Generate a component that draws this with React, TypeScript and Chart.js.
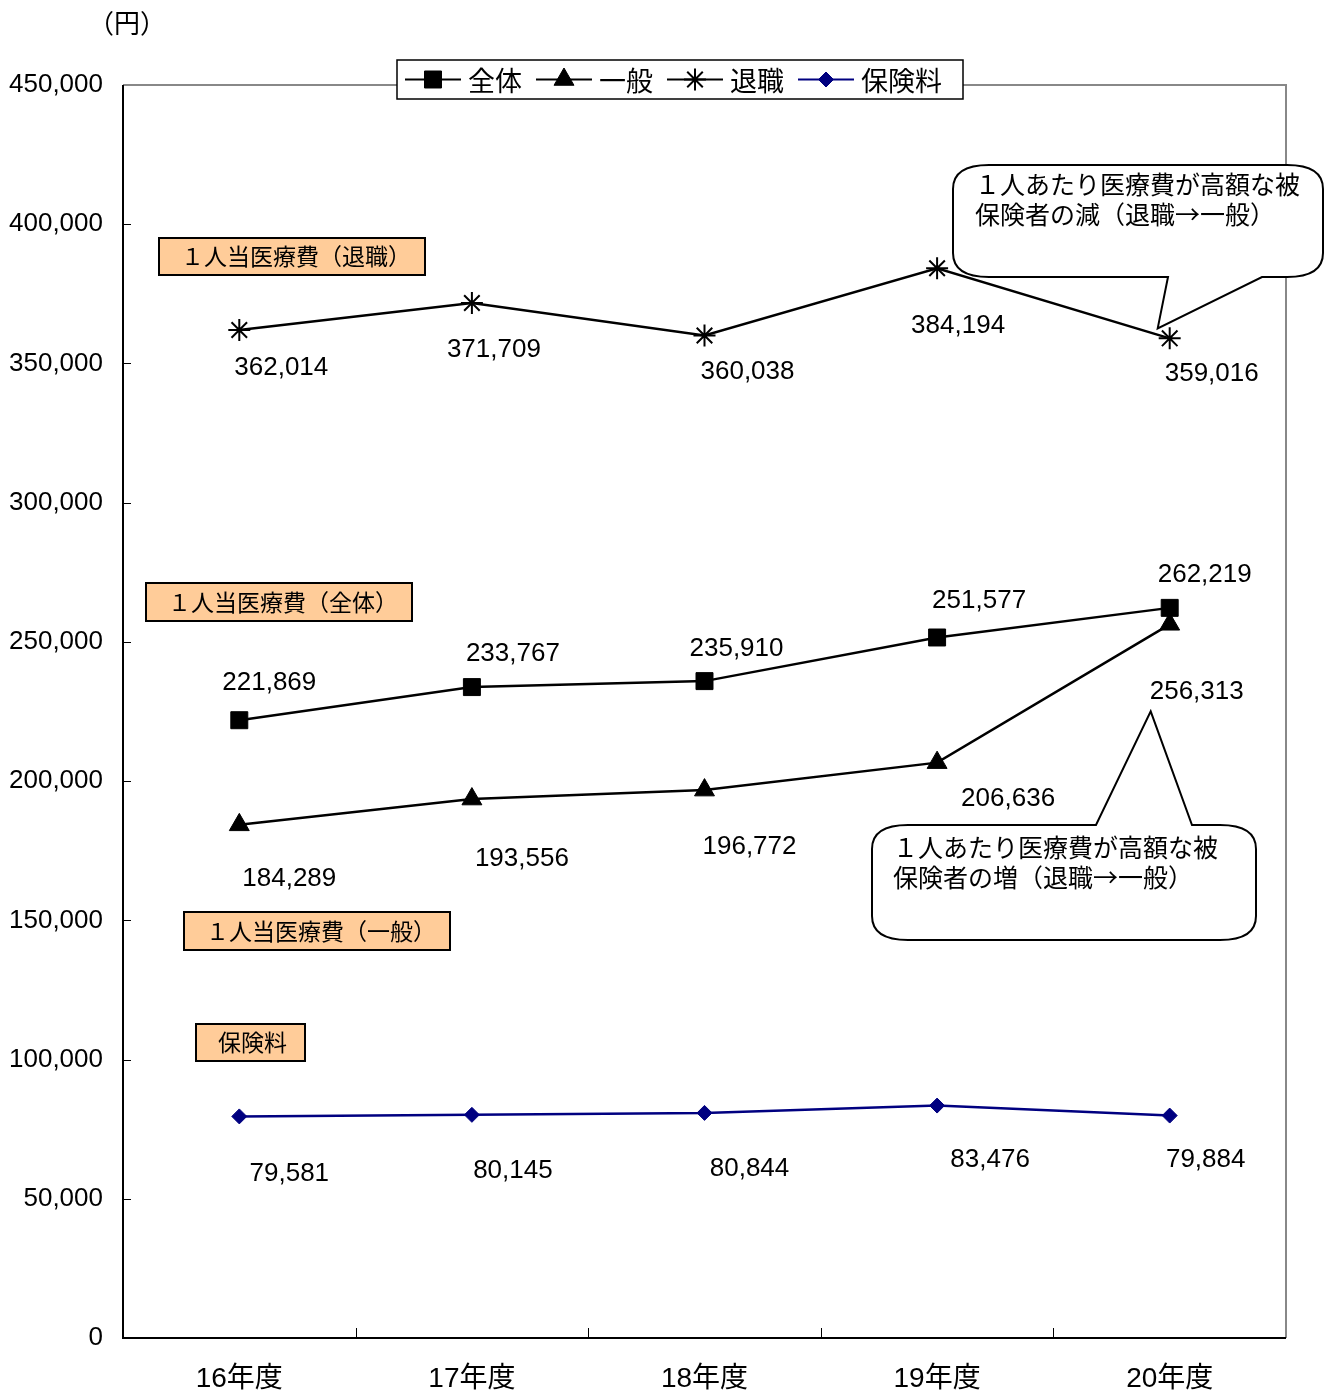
import React, { useEffect, useRef } from "react";
import { Chart, registerables } from "chart.js";
import { drawPoint } from "chart.js/helpers";

Chart.register(...registerables);

const categories = ["16年度", "17年度", "18年度", "19年度", "20年度"];
const zentai = [221869, 233767, 235910, 251577, 262219];
const ippan = [184289, 193556, 196772, 206636, 256313];
const taishoku = [362014, 371709, 360038, 384194, 359016];
const hokenryo = [79581, 80145, 80844, 83476, 79884];
const seriesNames = ["全体", "一般", "退職", "保険料"];
const yMax = 450000;
const yStep = 50000;
const unitLabel = "（円）";
const boxLabels = ["１人当医療費（退職）", "１人当医療費（全体）", "１人当医療費（一般）", "保険料"];
const callout1 = ["１人あたり医療費が高額な被", "保険者の減（退職→一般）"];
const callout2 = ["１人あたり医療費が高額な被", "保険者の増（退職→一般）"];

const NUM_FAMILY = '"Liberation Sans Narrow", "Liberation Sans", "Noto Sans CJK JP", sans-serif';
const JP_FAMILY = '"Noto Sans CJK JP", "Liberation Sans", sans-serif';

// label offsets (pixels) relative to each point, per dataset
const labelOffsets = [
  [[30, -37], [41, -33], [32, -32], [42, -37], [35, -33]],
  [[50, 54], [50, 60], [45, 57], [71, 36], [27, 68]],
  [[42, 38], [22, 47], [43, 36], [21, 58], [42, 35]],
  [[50, 57], [41, 56], [45, 56], [53, 54], [36, 44]],
];

function fmt(v: number) {
  return v.toLocaleString("en-US");
}

function calloutPath(
  ctx: CanvasRenderingContext2D,
  x0: number, y0: number, x1: number, y1: number,
  rx: number, ry: number,
  side: "top" | "bottom", ta: number, tb: number, tip: [number, number]
) {
  ctx.beginPath();
  ctx.moveTo(x0 + rx, y0);
  if (side === "top") {
    ctx.lineTo(ta, y0);
    ctx.lineTo(tip[0], tip[1]);
    ctx.lineTo(tb, y0);
  }
  ctx.lineTo(x1 - rx, y0);
  ctx.quadraticCurveTo(x1, y0, x1, y0 + ry);
  ctx.lineTo(x1, y1 - ry);
  ctx.quadraticCurveTo(x1, y1, x1 - rx, y1);
  if (side === "bottom") {
    ctx.lineTo(tb, y1);
    ctx.lineTo(tip[0], tip[1]);
    ctx.lineTo(ta, y1);
  }
  ctx.lineTo(x0 + rx, y1);
  ctx.quadraticCurveTo(x0, y1, x0, y1 - ry);
  ctx.lineTo(x0, y0 + ry);
  ctx.quadraticCurveTo(x0, y0, x0 + rx, y0);
  ctx.closePath();
}

const overlayPlugin = {
  id: "overlay",
  afterDatasetsDraw(chart: any) {
    const ctx: CanvasRenderingContext2D = chart.ctx;
    ctx.save();
    ctx.fillStyle = "#000";
    ctx.font = `26px ${NUM_FAMILY}`;
    ctx.textAlign = "center";
    ctx.textBaseline = "middle";
    chart.data.datasets.forEach((ds: any, di: number) => {
      const meta = chart.getDatasetMeta(di);
      meta.data.forEach((el: any, i: number) => {
        const [dx, dy] = labelOffsets[di][i];
        ctx.fillText(fmt(ds.data[i]), el.x + dx, el.y + dy);
      });
    });
    ctx.restore();
  },
  afterDraw(chart: any) {
    const ctx: CanvasRenderingContext2D = chart.ctx;
    const { left, right, top, bottom } = chart.chartArea;
    const xs = chart.scales.x;
    const ys = chart.scales.y;
    ctx.save();
    // frame
    ctx.lineWidth = 2;
    ctx.strokeStyle = "#888";
    ctx.beginPath();
    ctx.moveTo(left, top);
    ctx.lineTo(right, top);
    ctx.lineTo(right, bottom);
    ctx.stroke();
    ctx.strokeStyle = "#000";
    ctx.beginPath();
    ctx.moveTo(left, top);
    ctx.lineTo(left, bottom);
    ctx.lineTo(right, bottom);
    ctx.stroke();
    ctx.lineWidth = 1;
    ctx.beginPath();
    for (let v = yStep; v < yMax; v += yStep) {
      const y = Math.round(ys.getPixelForValue(v)) + 0.5;
      ctx.moveTo(left, y);
      ctx.lineTo(left + 8, y);
    }
    for (let i = 0; i < categories.length - 1; i++) {
      const x = Math.round((xs.getPixelForValue(i) + xs.getPixelForValue(i + 1)) / 2) + 0.5;
      ctx.moveTo(x, bottom);
      ctx.lineTo(x, bottom - 10);
    }
    ctx.stroke();

    // unit label
    ctx.fillStyle = "#000";
    ctx.font = `26px ${JP_FAMILY}`;
    ctx.textAlign = "left";
    ctx.textBaseline = "middle";
    ctx.fillText(unitLabel, 88, 23);

    // orange label boxes
    const boxes: [number, number, number, number][] = [
      [159, 238, 425, 275],
      [146, 583, 412, 621],
      [184, 912, 450, 950],
      [196, 1024, 305, 1061],
    ];
    ctx.font = `23px ${JP_FAMILY}`;
    boxes.forEach((b, i) => {
      ctx.fillStyle = "#FFCC99";
      ctx.fillRect(b[0], b[1], b[2] - b[0], b[3] - b[1]);
      ctx.lineWidth = 2;
      ctx.strokeStyle = "#000";
      ctx.strokeRect(b[0], b[1], b[2] - b[0], b[3] - b[1]);
      ctx.fillStyle = "#000";
      ctx.textAlign = "left";
      ctx.fillText(boxLabels[i], b[0] + 22, (b[1] + b[3]) / 2);
    });

    // callouts
    const m2 = chart.getDatasetMeta(2).data[4];
    const m1 = chart.getDatasetMeta(1).data[4];
    ctx.lineWidth = 2;
    ctx.strokeStyle = "#000";
    ctx.fillStyle = "#fff";
    calloutPath(ctx, 953, 165, 1323, 277, 36, 24, "bottom", 1168, 1262, [m2.x - 12, m2.y - 10]);
    ctx.fill();
    ctx.stroke();
    calloutPath(ctx, 872, 825, 1256, 940, 36, 24, "top", 1096, 1192, [m1.x - 19, m1.y + 87]);
    ctx.fill();
    ctx.stroke();
    ctx.fillStyle = "#000";
    ctx.font = `25px ${JP_FAMILY}`;
    ctx.textAlign = "left";
    ctx.fillText(callout1[0], 975, 184);
    ctx.fillText(callout1[1], 975, 214);
    ctx.fillText(callout2[0], 893, 847);
    ctx.fillText(callout2[1], 893, 877);

    // legend
    const lx0 = 397, ly0 = 60, lx1 = 963, ly1 = 99;
    ctx.fillStyle = "#fff";
    ctx.fillRect(lx0, ly0, lx1 - lx0, ly1 - ly0);
    ctx.lineWidth = 1.5;
    ctx.strokeStyle = "#000";
    ctx.strokeRect(lx0, ly0, lx1 - lx0, ly1 - ly0);
    ctx.font = `27px ${JP_FAMILY}`;
    let cx = 405;
    const cy = (ly0 + ly1) / 2;
    chart.data.datasets.forEach((ds: any) => {
      ctx.strokeStyle = ds.borderColor;
      ctx.lineWidth = 2;
      ctx.beginPath();
      ctx.moveTo(cx, cy);
      ctx.lineTo(cx + 56, cy);
      ctx.stroke();
      ctx.fillStyle = ds.pointBackgroundColor;
      ctx.strokeStyle = ds.borderColor;
      ctx.lineWidth = ds.pointBorderWidth;
      drawPoint(ctx, { pointStyle: ds.pointStyle, radius: ds.pointRadius, rotation: 0, borderWidth: ds.pointBorderWidth }, cx + 28, cy);
      ctx.fillStyle = "#000";
      ctx.textAlign = "left";
      ctx.fillText(ds.label, cx + 63, cy + 1);
      cx += 63 + ctx.measureText(ds.label).width + 14;
    });
    ctx.restore();
  },
};

export default function App() {
  const ref = useRef<HTMLCanvasElement>(null);
  useEffect(() => {
    if (!ref.current) return;
    const mk = (label: string, data: number[], color: string, style: string, radius: number, bw: number) => ({
      label,
      data,
      borderColor: color,
      backgroundColor: color,
      pointBackgroundColor: color,
      pointBorderColor: color,
      pointStyle: style,
      pointRadius: radius,
      pointBorderWidth: bw,
      borderWidth: 2.5,
      tension: 0,
      fill: false,
    });
    const chart = new Chart(ref.current, {
      type: "line",
      data: {
        labels: categories,
        datasets: [
          mk(seriesNames[0], zentai, "#000", "rect", 12, 1),
          mk(seriesNames[1], ippan, "#000", "triangle", 11.5, 1),
          mk(seriesNames[2], taishoku, "#000", "star", 11, 2),
          mk(seriesNames[3], hokenryo, "#000080", "rectRot", 7.5, 1),
        ] as any,
      },
      options: {
        responsive: false,
        animation: false,
        devicePixelRatio: 1,
        layout: { padding: { top: 85, right: 40, left: 0, bottom: 0 } },
        plugins: { legend: { display: false }, tooltip: { enabled: false } },
        scales: {
          x: {
            type: "category",
            offset: true,
            grid: { display: false, drawTicks: false },
            border: { display: false },
            ticks: { color: "#000", font: { size: 28, family: NUM_FAMILY }, padding: 24, maxRotation: 0 },
            afterFit: (s: any) => { s.height = 56; },
          },
          y: {
            min: 0,
            max: yMax,
            grid: { display: false, drawTicks: false },
            border: { display: false },
            ticks: {
              stepSize: yStep,
              color: "#000",
              font: { size: 26, family: NUM_FAMILY },
              padding: 20,
              callback: (v: any) => fmt(Number(v)),
            },
            afterFit: (s: any) => { s.width = 123; },
          },
        },
      },
      plugins: [overlayPlugin],
    });
    return () => chart.destroy();
  }, []);
  return (
    <div style={{ position: "absolute", left: 0, top: 0, width: 1326, height: 1394, background: "#fff" }}>
      <canvas ref={ref} width={1326} height={1394} />
    </div>
  );
}
